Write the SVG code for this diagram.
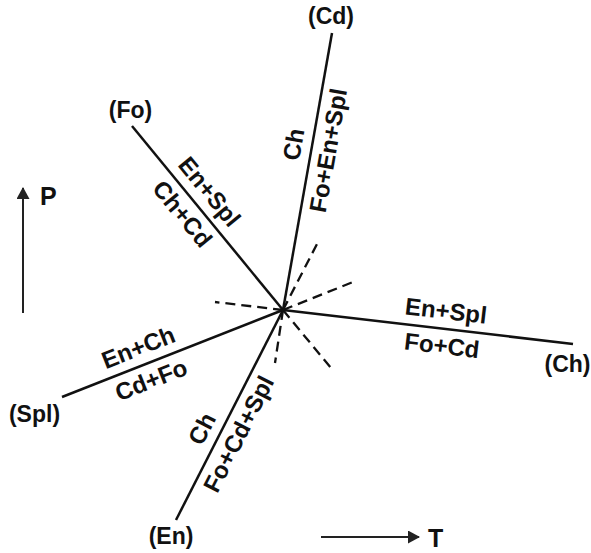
<svg xmlns="http://www.w3.org/2000/svg" width="591" height="553" viewBox="0 0 591 553">
<style>
.ln{stroke:#111;stroke-width:2.5;fill:none;stroke-linecap:butt}
.ds{stroke:#111;stroke-width:2.3;fill:none;stroke-dasharray:10 6}
.ax{stroke:#222;stroke-width:2;fill:none}
text{font-family:"Liberation Sans",Arial,sans-serif;font-weight:bold;fill:#111}
.lb{font-size:24px;text-anchor:middle}
.ep{font-size:23px;text-anchor:middle}
.axl{font-size:25px}
</style>
<defs>
<marker id="ah" viewBox="0 0 12 13" refX="11" refY="6.5" markerWidth="12" markerHeight="13" markerUnits="userSpaceOnUse" orient="auto">
<path d="M0,0 L12,6.5 L0,13 Z" fill="#222"/>
</marker>
</defs>
<rect width="591" height="553" fill="#fff"/>
<g id="connectors">
<line class="ln" x1="283" y1="310" x2="332" y2="33"/>
<line class="ln" x1="283" y1="310" x2="132" y2="126"/>
<line class="ln" x1="283" y1="310" x2="573" y2="344"/>
<line class="ln" x1="283" y1="310" x2="62" y2="397"/>
<line class="ln" x1="283" y1="310" x2="176" y2="520"/>
<line class="ds" x1="283" y1="310" x2="215" y2="302"/>
<line class="ds" x1="283" y1="310" x2="353" y2="282"/>
<line class="ds" x1="283" y1="310" x2="317" y2="244"/>
<line class="ds" x1="283" y1="310" x2="331" y2="368"/>
<line class="ds" x1="283" y1="310" x2="275" y2="363"/>
<line class="ax" x1="23" y1="313" x2="23" y2="188" marker-end="url(#ah)"/>
<line class="ax" x1="321" y1="537" x2="419" y2="537" marker-end="url(#ah)"/>
</g>
<g id="node-Cd">
<text class="ep" x="331" y="24">(Cd)</text>
<g transform="translate(311.7,147.5) rotate(-80)">
<text class="lb" x="0" y="-10">Ch</text>
<text class="lb" x="0" y="25">Fo+En+Spl</text>
</g>
</g>
<g id="node-Fo">
<text class="ep" x="130.5" y="118">(Fo)</text>
<g transform="translate(195.4,203.3) rotate(50.6)">
<text class="lb" x="0" y="-10">En+Spl</text>
<text class="lb" x="0" y="25">Ch+Cd</text>
</g>
</g>
<g id="node-Ch">
<text class="ep" x="567.5" y="372">(Ch)</text>
<g transform="translate(443.9,328.9) rotate(6.69)">
<text class="lb" x="0" y="-10">En+Spl</text>
<text class="lb" x="0" y="25">Fo+Cd</text>
</g>
</g>
<g id="node-Spl">
<text class="ep" x="34.5" y="422">(Spl)</text>
<g transform="translate(145,364.4) rotate(-21.5)">
<text class="lb" x="0" y="-10">En+Ch</text>
<text class="lb" x="0" y="25">Cd+Fo</text>
</g>
</g>
<g id="node-En">
<text class="ep" x="171" y="544">(En)</text>
<g transform="translate(218.2,437.1) rotate(-63)">
<text class="lb" x="0" y="-10">Ch</text>
</g>
<g transform="translate(223.7,426.4) rotate(-63)">
<text class="lb" x="0" y="25">Fo+Cd+Spl</text>
</g>
</g>
<g id="axis-P">
<text class="axl" x="40" y="205">P</text>
</g>
<g id="axis-T">
<text class="axl" x="428" y="547">T</text>
</g>
</svg>
